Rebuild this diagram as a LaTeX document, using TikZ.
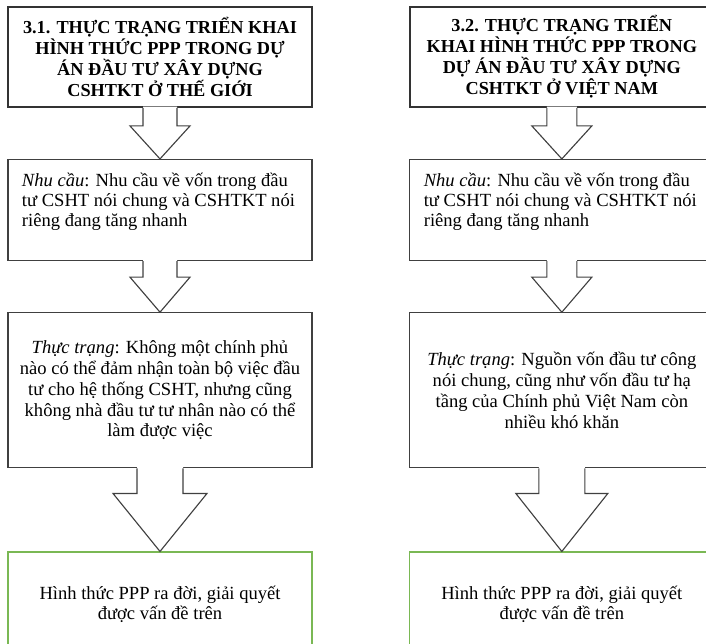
\documentclass[tikz,border=0pt]{standalone}
\usepackage{fontspec}
\setmainfont{Liberation Serif}
\usetikzlibrary{positioning,calc}

\definecolor{pppgreen}{RGB}{122,184,84}

% block arrow: from, to, shaft half width, head half width, shaft length
\newcommand{\blockarrow}[5]{%
  \fill[white] ($(#1.south)+(-#3,1pt)$) -- ($(#1.south)+(-#3,-#5)$) -- ($(#1.south)+(-#4,-#5)$)
    -- (#2.north) -- ($(#1.south)+(#4,-#5)$) -- ($(#1.south)+(#3,-#5)$) -- ($(#1.south)+(#3,1pt)$) -- cycle;
  \draw[blockarr] ($(#1.south)+(-#3,0)$) -- ($(#1.south)+(-#3,-#5)$) -- ($(#1.south)+(-#4,-#5)$)
    -- (#2.north) -- ($(#1.south)+(#4,-#5)$) -- ($(#1.south)+(#3,-#5)$) -- ($(#1.south)+(#3,0)$);
}
\newcommand{\toptext}[1]{\parbox[t][1.85cm][t]{7.6cm}{\raggedright\leftskip=0.35cm #1}}

\tikzset{
  box/.style={draw=black!75, line width=0.9pt, minimum width=7.6cm, inner sep=0pt,
    font=\fontsize{13.2}{14.2}\selectfont},
  titlebox/.style={box, draw=black!80, line width=1.3pt, minimum height=2.5cm, align=center,
    font=\fontsize{13}{15}\selectfont\bfseries},
  needbox/.style={box, minimum height=2.525cm},
  factbox/.style={box, minimum height=3.875cm, align=center, font=\fontsize{13.2}{14.8}\selectfont},
  endbox/.style={box, draw=pppgreen, minimum height=2.6cm, align=center},
  blockarr/.style={draw=black!75, line width=0.8pt, line join=miter},
}

\begin{document}
\begin{tikzpicture}
	\clip (0,0) rectangle (17.65,-16.075);
	% left column: the world
	\node [titlebox] (t1) at (4,-1.425) {3.1. THỰC TRẠNG TRIỂN KHAI\\ HÌNH THỨC PPP TRONG DỰ\\ ÁN ĐẦU TƯ XÂY DỰNG\\ CSHTKT Ở THẾ GIỚI};
	\node [needbox] (nc1) [below=1.275cm of t1] {\toptext{\textit{Nhu cầu}: Nhu cầu về vốn trong đầu\\ tư CSHT nói chung và CSHTKT nói\\ riêng đang tăng nhanh}};
	\node [factbox] (tt1) [below=1.275cm of nc1] {\textit{Thực trạng}: Không một chính phủ\\ nào có thể đảm nhận toàn bộ việc đầu\\ tư cho hệ thống CSHT, nhưng cũng\\ không nhà đầu tư tư nhân nào có thể\\ làm được việc};
	\node [endbox] (kq1) [below=2.075cm of tt1] {Hình thức PPP ra đời, giải quyết\\ được vấn đề trên};

	% right column: Viet Nam
	\node [titlebox] (t2) [right=2.4cm of t1] {3.2. THỰC TRẠNG TRIỂN\\ KHAI HÌNH THỨC PPP TRONG\\ DỰ ÁN ĐẦU TƯ XÂY DỰNG\\ CSHTKT Ở VIỆT NAM};
	\node [needbox] (nc2) [below=1.275cm of t2] {\toptext{\textit{Nhu cầu}: Nhu cầu về vốn trong đầu\\ tư CSHT nói chung và CSHTKT nói\\ riêng đang tăng nhanh}};
	\node [factbox] (tt2) [below=1.275cm of nc2] {\textit{Thực trạng}: Nguồn vốn đầu tư công\\ nói chung, cũng như vốn đầu tư hạ\\ tầng của Chính phủ Việt Nam còn\\ nhiều khó khăn};
	\node [endbox] (kq2) [below=2.075cm of tt2] {Hình thức PPP ra đời, giải quyết\\ được vấn đề trên};

	% arrows
	\blockarrow{t1}{nc1}{0.425cm}{0.75cm}{0.45cm}
	\blockarrow{nc1}{tt1}{0.425cm}{0.75cm}{0.4cm}
	\blockarrow{tt1}{kq1}{0.575cm}{1.175cm}{0.625cm}
	\blockarrow{t2}{nc2}{0.375cm}{0.75cm}{0.45cm}
	\blockarrow{nc2}{tt2}{0.375cm}{0.75cm}{0.4cm}
	\blockarrow{tt2}{kq2}{0.575cm}{1.15cm}{0.625cm}
\end{tikzpicture}
\end{document}
